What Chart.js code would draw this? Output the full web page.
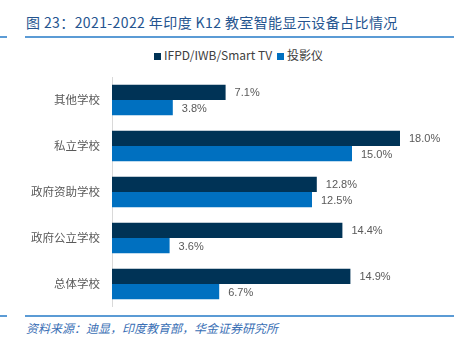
<!DOCTYPE html>
<html>
<head>
<meta charset="utf-8">
<script src="https://cdn.jsdelivr.net/npm/chart.js@4"></script>
<style>
  html, body { margin: 0; padding: 0; background: #fff; }
  #page { position: relative; width: 464px; height: 341px; overflow: hidden; font-family: "Noto Sans CJK SC", "Noto Sans", sans-serif; }
  .rule { position: absolute; height: 1.5px; background: #5b9bd5; }
  #title { position: absolute; left: 26px; top: 12px; font-size: 14px; color: #24548f; letter-spacing: 0.4px; white-space: nowrap; }
  #source { position: absolute; left: 26px; top: 319px; font-size: 12px; color: #3a6fb5; font-style: italic; white-space: nowrap; }
  #legend { position: absolute; left: 154px; top: 46px; font-size: 12px; color: #404040; white-space: nowrap; line-height: 18px; }
  #legend span.box { display: inline-block; width: 7px; height: 7px; margin-right: 3px; vertical-align: 0px; }
  #wrap { position: absolute; left: 0; top: 77px; width: 464px; height: 230px; }
</style>
</head>
<body>
<div id="page">
  <div id="title">图 23：2021-2022 年印度 K12 教室智能显示设备占比情况</div>
  <div class="rule" style="left:0;width:7px;top:36px"></div>
  <div class="rule" style="left:25px;width:429px;top:36px"></div>
  <div id="legend"></div>
  <div id="wrap"><canvas id="chart"></canvas></div>
  <div class="rule" style="left:0;width:7px;top:315px"></div>
  <div class="rule" style="left:25px;width:429px;top:315px"></div>
  <div id="source">资料来源：迪显，印度教育部，华金证券研究所</div>
</div>
<script>
// 数据
const categories = ['其他学校', '私立学校', '政府资助学校', '政府公立学校', '总体学校'];
const seriesNames = ['IFPD/IWB/Smart TV', '投影仪'];
const displayShare = [7.1, 18.0, 12.8, 14.4, 14.9];
const projectorShare = [3.8, 15.0, 12.5, 3.6, 6.7];

const COLORS = ['#003356', '#0070c0'];

// 在柱子末端画数值标签
const valueLabels = {
    id: 'valueLabels',
    afterDatasetsDraw(chart) {
        const ctx = chart.ctx;
        ctx.save();
        ctx.font = '11px "Liberation Sans", Arial, sans-serif';
        ctx.fillStyle = '#595959';
        ctx.textAlign = 'left';
        ctx.textBaseline = 'middle';
        chart.data.datasets.forEach((ds, i) => {
            chart.getDatasetMeta(i).data.forEach((bar, j) => {
                ctx.fillText(ds.data[j].toFixed(1) + '%', bar.x + 9, bar.y + 1);
            });
        });
        ctx.restore();
    }
};

// 图例用 HTML 画
function buildLegend() {
    const el = document.getElementById('legend');
    el.innerHTML = seriesNames.map((name, i) =>
        '<span class="box" style="background:' + COLORS[i] + '"></span>' + name
    ).join('<span style="display:inline-block;width:5px"></span>');
}

function initChart() {
    const ctx = document.getElementById('chart').getContext('2d');
    new Chart(ctx, {
        type: 'bar',
        data: {
            labels: categories,
            datasets: [
                { label: seriesNames[0], data: displayShare, backgroundColor: COLORS[0] },
                { label: seriesNames[1], data: projectorShare, backgroundColor: COLORS[1] }
            ]
        },
        options: {
            indexAxis: 'y',
            responsive: true,
            maintainAspectRatio: false,
            animation: false,
            layout: { padding: 0 },
            datasets: { bar: { categoryPercentage: 0.66, barPercentage: 1 } },
            plugins: {
                legend: { display: false },
                tooltip: { enabled: false }
            },
            scales: {
                x: { display: false, min: 0, max: 20, afterFit(scale) { scale.paddingLeft = 0; scale.paddingRight = 32; } },
                y: {
                    grid: { display: false },
                    border: { display: true, color: '#d9d9d9' },
                    ticks: { color: '#595959', padding: 4, font: { size: 11.5, family: '"Noto Sans CJK SC", sans-serif' } },
                    afterFit(scale) {
                        scale.width = 112;
                        scale.paddingTop = 0;
                        scale.paddingBottom = 0;
                    }
                }
            }
        },
        plugins: [valueLabels]
    });
}

buildLegend();
initChart();
</script>
</body>
</html>
